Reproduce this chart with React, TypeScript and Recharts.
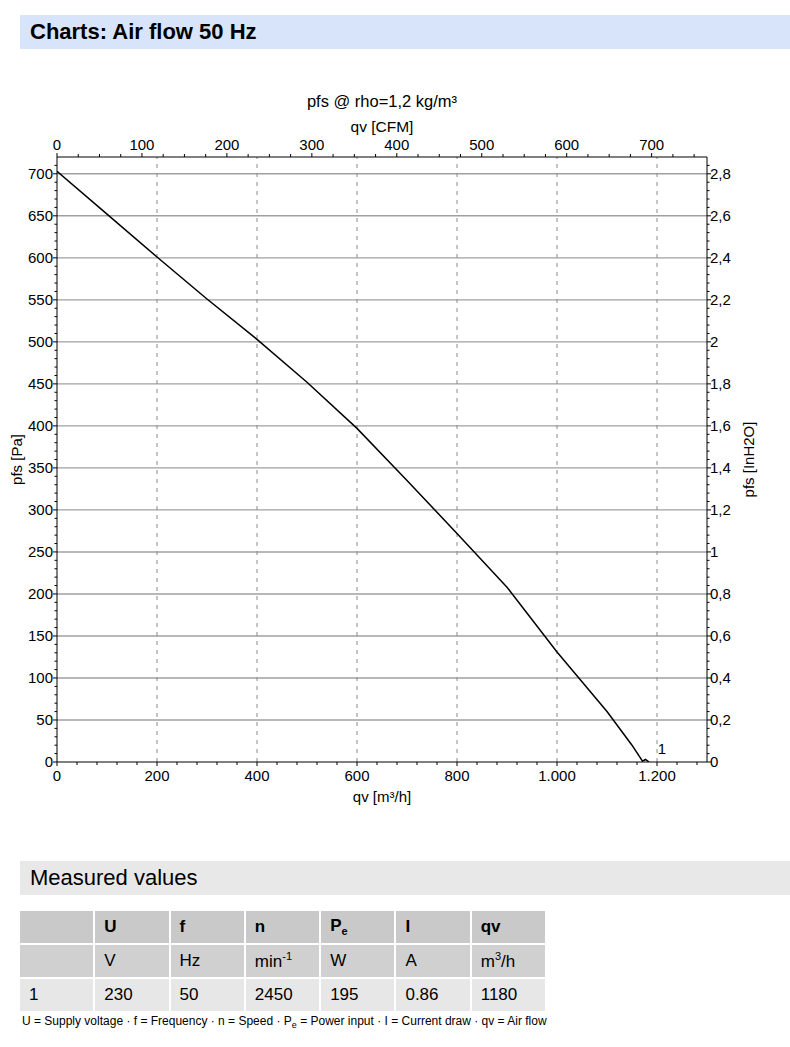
import { LineChart, Line, XAxis, YAxis, ReferenceLine } from "recharts";

// operating curve 1
const qv = [0, 100, 200, 300, 400, 500, 600, 700, 800, 900, 1000, 1100, 1150, 1171, 1177, 1184];
const pfs = [703, 652, 601, 551, 503, 452, 397, 335, 272, 208, 131, 60, 20, 1, 3, 0];
const curveName = "1";

const m3hMajor = [0, 200, 400, 600, 800, 1000, 1200];
const cfmMajor = [0, 100, 200, 300, 400, 500, 600, 700];
const paMajor = [0, 50, 100, 150, 200, 250, 300, 350, 400, 450, 500, 550, 600, 650, 700];
const inMajor = [0, 0.2, 0.4, 0.6, 0.8, 1, 1.2, 1.4, 1.6, 1.8, 2, 2.2, 2.4, 2.6, 2.8];

const hGrid = [50, 100, 150, 200, 250, 300, 350, 400, 450, 500, 550, 600, 650, 700];
const vGrid = [200, 400, 600, 800, 1000, 1200];

const tableHead = ["", "U", "f", "n", "Pe", "I", "qv"];
const tableUnits = ["", "V", "Hz", "min-1", "W", "A", "m3/h"];
const tableRow = ["1", "230", "50", "2450", "195", "0.86", "1180"];

const M3H_PER_CFM = 1.69901;
const PA_PER_INH2O = 250;
const X_MAX = 1300;
const Y_MAX = 720;

const steps = (max: number, step: number) => {
  const out: number[] = [];
  for (let i = 0; i * step <= max + 1e-9; i++) out.push(Math.round(i * step * 1000) / 1000);
  return out;
};

const m3hTicks = steps(1280, 40);
const cfmTicks = steps(750, 25);
const paTicks = steps(710, 10);
const inTicks = steps(2.84, 0.04);

const data = qv.map((q, i) => ({ qv: q, cfm: q / M3H_PER_CFM, pfs: pfs[i] }));

const FONT = '"Liberation Sans", Arial, sans-serif';
const isMajor = (v: number, list: number[]) => list.some((m) => Math.abs(m - v) < 1e-6);
const fmtDe = (v: number) => v.toLocaleString("de-DE");

const BottomTick = (p: any) => {
  const major = isMajor(p.payload.value, m3hMajor);
  return (
    <g>
      <line x1={p.x} y1={p.y} x2={p.x} y2={p.y + (major ? 4 : 3)} stroke="#000" />
      {major && (
        <text x={p.x} y={p.y + 19} textAnchor="middle" fontSize={15} fill="#000" fontFamily={FONT}>
          {fmtDe(p.payload.value)}
        </text>
      )}
    </g>
  );
};

const TopTick = (p: any) => {
  const major = isMajor(p.payload.value, cfmMajor);
  return (
    <g>
      <line x1={p.x} y1={p.y} x2={p.x} y2={p.y - (major ? 4 : 3)} stroke="#000" />
      {major && (
        <text x={p.x} y={p.y - 7} textAnchor="middle" fontSize={15} fill="#000" fontFamily={FONT}>
          {p.payload.value}
        </text>
      )}
    </g>
  );
};

const LeftTick = (p: any) => {
  const major = isMajor(p.payload.value, paMajor);
  return (
    <g>
      <line x1={p.x} y1={p.y} x2={p.x - (major ? 4 : 2.5)} y2={p.y} stroke="#000" />
      {major && (
        <text x={p.x - 4} y={p.y} dy="0.35em" textAnchor="end" fontSize={15} fill="#000" fontFamily={FONT}>
          {p.payload.value}
        </text>
      )}
    </g>
  );
};

const RightTick = (p: any) => {
  const major = isMajor(p.payload.value, inMajor);
  return (
    <g>
      <line x1={p.x} y1={p.y} x2={p.x + (major ? 4 : 2.5)} y2={p.y} stroke="#000" />
      {major && (
        <text x={p.x + 3} y={p.y} dy="0.35em" textAnchor="start" fontSize={15} fill="#000" fontFamily={FONT}>
          {String(p.payload.value).replace(".", ",")}
        </text>
      )}
    </g>
  );
};

const TopLabel = (p: any) => {
  const vb = p.viewBox;
  const cx = vb.x + vb.width / 2;
  const bottom = vb.y + vb.height;
  return (
    <g fontFamily={FONT} fill="#000">
      <text x={cx} y={bottom - 50} textAnchor="middle" fontSize={16.5}>pfs @ rho=1,2 kg/m³</text>
      <text x={cx} y={bottom - 25} textAnchor="middle" fontSize={15.5}>qv [CFM]</text>
    </g>
  );
};

const BottomLabel = (p: any) => {
  const vb = p.viewBox;
  return (
    <text x={vb.x + vb.width / 2} y={vb.y + 40} textAnchor="middle" fontFamily={FONT} fontSize={15} fill="#000">
      qv [m³/h]
    </text>
  );
};

const SideLabel = (text: string, dx: number) => (p: any) => {
  const vb = p.viewBox;
  const x = vb.x + dx;
  const y = vb.y + vb.height / 2;
  return (
    <text x={x} y={y} dy="0.35em" textAnchor="middle" transform={`rotate(-90, ${x}, ${y})`} fontFamily={FONT} fontSize={15} fill="#000">
      {text}
    </text>
  );
};

const EndLabel = (p: any) => {
  if (p.index !== data.length - 1) return null;
  return (
    <text x={p.x + 13} y={p.y - 8} textAnchor="middle" fontFamily={FONT} fontSize={15} fill="#000">
      {curveName}
    </text>
  );
};

const bar: React.CSSProperties = {
  position: "absolute",
  left: 20,
  width: 770,
  height: 34,
  display: "flex",
  alignItems: "center",
  paddingLeft: 10,
  boxSizing: "border-box",
  fontFamily: FONT,
  color: "#000",
};

const unitCell = (u: string) => {
  if (u === "min-1") return <span>min<sup style={{ fontSize: 11 }}>-1</sup></span>;
  if (u === "m3/h") return <span>m<sup style={{ fontSize: 11 }}>3</sup>/h</span>;
  return <span>{u}</span>;
};
const headCell = (h: string) =>
  h === "Pe" ? <span>P<sub style={{ fontSize: 11 }}>e</sub></span> : <span>{h}</span>;

export default function App() {
  const rows = [tableHead, tableUnits, tableRow];
  const rowBg = ["#c9c9c9", "#d0d0d0", "#e7e7e7"];
  return (
    <div style={{ position: "absolute", left: 0, top: 0, width: 790, height: 1047, background: "#fff", fontFamily: FONT }}>
      <div style={{ position: "absolute", left: 0, top: 0 }}>
        <LineChart width={790} height={830} data={data} margin={{ top: 0, right: 0, bottom: 0, left: 0 }}>
          <XAxis
            xAxisId="m3h"
            dataKey="qv"
            type="number"
            domain={[0, X_MAX]}
            allowDataOverflow
            ticks={m3hTicks}
            interval={0}
            height={68}
            tickSize={0}
            tickMargin={0}
            tickLine={false}
            tick={<BottomTick />}
            axisLine={{ stroke: "#000" }}
            label={BottomLabel}
          />
          <XAxis
            xAxisId="cfm"
            dataKey="cfm"
            orientation="top"
            type="number"
            domain={[0, X_MAX / M3H_PER_CFM]}
            allowDataOverflow
            ticks={cfmTicks}
            interval={0}
            height={157}
            tickSize={0}
            tickMargin={0}
            tickLine={false}
            tick={<TopTick />}
            axisLine={{ stroke: "#000" }}
            label={TopLabel}
          />
          <YAxis
            yAxisId="pa"
            type="number"
            domain={[0, Y_MAX]}
            allowDataOverflow
            ticks={paTicks}
            interval={0}
            width={57}
            tickSize={0}
            tickMargin={0}
            tickLine={false}
            tick={<LeftTick />}
            axisLine={{ stroke: "#000" }}
            label={SideLabel("pfs [Pa]", 17)}
          />
          <YAxis
            yAxisId="inh2o"
            orientation="right"
            type="number"
            domain={[0, Y_MAX / PA_PER_INH2O]}
            allowDataOverflow
            ticks={inTicks}
            interval={0}
            width={83}
            tickSize={0}
            tickMargin={0}
            tickLine={false}
            tick={<RightTick />}
            axisLine={{ stroke: "#000" }}
            label={SideLabel("pfs [InH2O]", 42)}
          />
          {hGrid.map((v) => (
            <ReferenceLine key={`h${v}`} xAxisId="m3h" yAxisId="pa" y={v} stroke="#a0a0a0" strokeWidth={1.4} />
          ))}
          {vGrid.map((v) => (
            <ReferenceLine key={`v${v}`} xAxisId="m3h" yAxisId="pa" x={v} stroke="#8a8a8a" strokeDasharray="4 5" />
          ))}
          <Line
            xAxisId="m3h"
            yAxisId="pa"
            dataKey="pfs"
            type="linear"
            stroke="#000"
            strokeWidth={1.5}
            dot={false}
            label={<EndLabel />}
            isAnimationActive={false}
          />
        </LineChart>
      </div>

      <div style={{ ...bar, top: 15, background: "#d7e4fa", fontSize: 22, fontWeight: "bold" }}>
        Charts: Air flow 50 Hz
      </div>

      <div style={{ ...bar, top: 861, background: "#e8e8e8", fontSize: 22 }}>Measured values</div>

      <div
        style={{
          position: "absolute",
          left: 20,
          top: 911,
          width: 525,
          display: "grid",
          gridTemplateColumns: "repeat(7, 1fr)",
          gridAutoRows: "32px",
          gap: 2,
          fontSize: 17,
          color: "#000",
        }}
      >
        {rows.map((r, ri) =>
          r.map((c, ci) => (
            <div
              key={`${ri}-${ci}`}
              style={{
                background: rowBg[ri],
                display: "flex",
                alignItems: "center",
                paddingLeft: 9,
                fontWeight: ri === 0 ? "bold" : "normal",
              }}
            >
              {ri === 0 ? headCell(c) : ri === 1 ? unitCell(c) : <span>{c}</span>}
            </div>
          ))
        )}
      </div>

      <div style={{ position: "absolute", left: 22, top: 1014, fontSize: 12, color: "#000", whiteSpace: "nowrap" }}>
        U = Supply voltage · f = Frequency · n = Speed · P<sub style={{ fontSize: 9 }}>e</sub> = Power input · I = Current draw · qv = Air flow
      </div>
    </div>
  );
}
